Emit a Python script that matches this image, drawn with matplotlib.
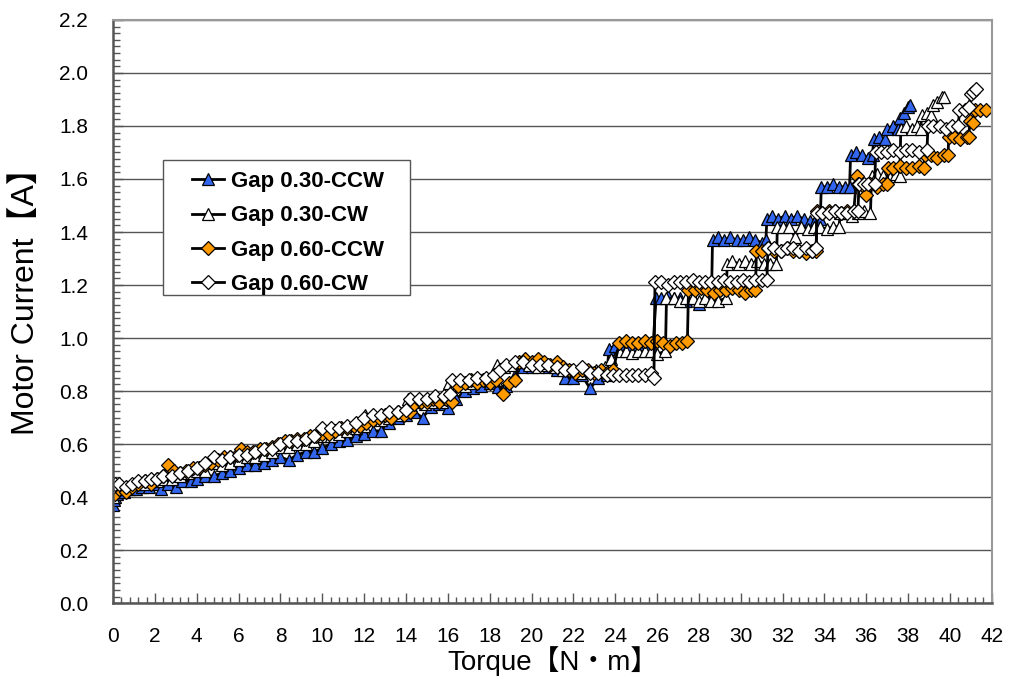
import matplotlib
matplotlib.use("Agg")
import matplotlib.pyplot as plt
from matplotlib.patches import Rectangle
from matplotlib.ticker import MultipleLocator, FormatStrFormatter

# Gap 0.30-CCW
ccw30_x = [0.0, 0.05, 0.1, 0.2, 0.3, 0.5, 0.8, 1.1, 1.4, 1.7, 2.0, 2.3, 2.6, 3.0, 3.3, 3.7, 4.0, 4.4, 4.8, 5.2,
           5.6, 6.0, 6.4, 6.8, 7.2, 7.6, 8.0, 8.4, 8.8, 9.2, 9.6, 10.0, 10.4, 10.8, 11.2, 11.6, 12.0, 12.4, 12.8,
           13.2, 13.6, 14.0, 14.4, 14.8, 15.2, 15.6, 16.0, 16.4, 16.8, 17.2, 17.6, 18.0, 18.4, 18.8, 19.2, 19.6,
           20.0, 20.4, 20.8, 21.2, 21.6, 22.0, 22.4, 22.8, 23.2, 23.6,
           23.7, 24.0, 24.3, 24.6, 24.9, 25.2, 25.5, 25.8, 25.95, 26.2, 26.5, 26.8, 27.1, 27.4, 27.7, 28.0, 28.3,
           28.6, 28.65, 28.9, 29.2, 29.5, 29.8, 30.1, 30.4, 30.7, 31.0, 31.2, 31.25, 31.5, 31.8, 32.1, 32.4, 32.7,
           33.0, 33.3, 33.6, 33.8, 33.85, 34.1, 34.4, 34.7, 35.0, 35.2, 35.25, 35.5, 35.8, 36.1, 36.3, 36.35, 36.6,
           36.9, 37.0, 37.3, 37.5, 37.6, 37.8, 38.0, 38.1]
ccw30_y = [0.37, 0.39, 0.40, 0.41, 0.42, 0.42, 0.43, 0.43, 0.44, 0.44, 0.45, 0.43, 0.45, 0.44, 0.46, 0.46, 0.47, 0.48,
           0.48, 0.49, 0.50, 0.51, 0.52, 0.52, 0.53, 0.54, 0.55, 0.54, 0.56, 0.57, 0.57, 0.585, 0.60, 0.61, 0.615,
           0.63, 0.64, 0.65, 0.65, 0.68, 0.70, 0.71, 0.72, 0.70, 0.74, 0.75, 0.735, 0.77, 0.80, 0.81, 0.82, 0.83,
           0.815, 0.82, 0.86, 0.89, 0.89, 0.90, 0.89, 0.88, 0.85, 0.85, 0.86, 0.81, 0.85, 0.86,
           0.96, 0.97, 0.96, 0.97, 0.955, 0.96, 0.955, 0.96, 1.15, 1.15, 1.16, 1.15, 1.15, 1.14, 1.15, 1.13, 1.15,
           1.15, 1.37, 1.38, 1.37, 1.38, 1.37, 1.37, 1.38, 1.37, 1.36, 1.37, 1.45, 1.46, 1.45, 1.46, 1.45, 1.46,
           1.45, 1.44, 1.45, 1.45, 1.57, 1.57, 1.58, 1.57, 1.57, 1.57, 1.69, 1.70, 1.69, 1.68, 1.69, 1.75, 1.76,
           1.75, 1.79, 1.80, 1.79, 1.83, 1.85, 1.87, 1.88]

# Gap 0.30-CW
cw30_x = [0.0, 0.1, 0.3, 0.6, 0.9, 1.2, 1.5, 1.8, 2.1, 2.4, 2.8, 3.2, 3.6, 4.0, 4.4, 4.8, 5.2, 5.6, 6.0, 6.4, 6.8,
          7.2, 7.6, 8.0, 8.4, 8.8, 9.2, 9.6, 10.0, 10.4, 10.8, 11.2, 11.6, 12.0, 12.05, 12.4, 12.8, 13.2, 13.6,
          14.0, 14.1, 14.5, 14.9, 15.3, 15.7, 16.0, 16.05, 16.4, 16.8, 17.2, 17.6, 18.0, 18.3, 18.35, 18.7, 19.1,
          19.5, 19.9, 20.3, 20.7, 21.1, 21.5, 21.9, 22.3, 22.7, 23.1, 23.5, 23.8, 24.2, 24.5, 24.8, 25.1, 25.4,
          25.7, 26.0, 26.4, 26.45, 26.8, 27.1, 27.4, 27.7, 28.0, 28.3, 28.6, 28.9, 29.3, 29.35, 29.6, 29.9, 30.2,
          30.5, 30.8, 31.1, 31.4, 31.7, 31.75, 32.0, 32.3, 32.6, 32.9, 33.2, 33.5, 33.8, 34.1, 34.4, 34.7, 34.75,
          35.0, 35.3, 35.6, 35.9, 36.2, 36.25, 36.5, 36.8, 37.1, 37.4, 37.6, 37.65, 37.9, 38.2, 38.4, 38.6, 38.65,
          38.9, 39.1, 39.2, 39.4, 39.6, 39.7]
cw30_y = [0.40, 0.43, 0.44, 0.44, 0.45, 0.45, 0.45, 0.46, 0.46, 0.47, 0.47, 0.48, 0.49, 0.50, 0.50, 0.53, 0.52,
          0.53, 0.54, 0.55, 0.55, 0.56, 0.57, 0.59, 0.59, 0.60, 0.60, 0.61, 0.63, 0.63, 0.64, 0.65, 0.66, 0.67,
          0.71, 0.70, 0.69, 0.70, 0.71, 0.72, 0.77, 0.76, 0.75, 0.76, 0.76, 0.77, 0.83, 0.83, 0.82, 0.83, 0.84,
          0.84, 0.84, 0.90, 0.89, 0.90, 0.91, 0.90, 0.89, 0.90, 0.89, 0.88, 0.88, 0.87, 0.88, 0.88, 0.89, 0.92,
          0.95, 0.95, 0.945, 0.95, 0.95, 0.95, 0.94, 0.95, 1.15, 1.15, 1.14, 1.15, 1.15, 1.14, 1.15, 1.14, 1.14,
          1.15, 1.28, 1.29, 1.28, 1.29, 1.28, 1.29, 1.28, 1.28, 1.28, 1.42, 1.42, 1.42, 1.38, 1.42, 1.41, 1.42,
          1.42, 1.41, 1.42, 1.42, 1.47, 1.47, 1.46, 1.47, 1.48, 1.47, 1.61, 1.62, 1.61, 1.61, 1.62, 1.61, 1.79,
          1.80, 1.79, 1.80, 1.79, 1.84, 1.85, 1.84, 1.88, 1.89, 1.91, 1.91]

# Gap 0.60-CCW
ccw60_x = [0.0, 0.1, 0.3, 0.6, 0.9, 1.2, 1.5, 1.8, 2.1, 2.4, 2.6, 2.9, 3.2, 3.5, 3.8, 4.1, 4.4, 4.7, 5.0, 5.3, 5.6,
           5.9, 6.1, 6.4, 6.7, 7.0, 7.3, 7.6, 7.9, 8.2, 8.5, 8.8, 9.1, 9.4, 9.7, 10.0, 10.3, 10.6, 10.9, 11.2,
           11.5, 11.8, 12.1, 12.4, 12.7, 13.0, 13.3, 13.6, 13.9, 14.2, 14.4, 14.7, 15.0, 15.3, 15.6, 15.9, 16.2,
           16.5, 16.8, 17.1, 17.4, 17.7, 18.0, 18.3, 18.65, 18.9, 19.2, 19.4, 19.7, 20.0, 20.3, 20.6, 20.9, 21.2,
           21.5, 21.8, 22.1, 22.4, 22.7, 23.0, 23.3, 23.6, 23.9, 24.2, 24.5, 24.8, 25.1, 25.4, 25.7, 26.0, 26.3,
           26.6, 26.9, 27.2, 27.45, 27.5, 27.8, 28.1, 28.4, 28.7, 29.0, 29.3, 29.6, 29.9, 30.2, 30.5, 30.7, 30.75,
           31.0, 31.3, 31.6, 31.9, 32.2, 32.5, 32.8, 33.1, 33.4, 33.6, 33.65, 33.9, 34.2, 34.5, 34.8, 35.1, 35.4,
           35.55, 35.6, 35.9, 36.0, 36.2, 36.5, 36.8, 37.0, 37.05, 37.3, 37.6, 37.9, 38.2, 38.5, 38.75, 38.8, 39.1,
           39.4, 39.7, 39.9, 39.95, 40.2, 40.5, 40.8, 40.9, 40.95, 41.1, 41.2, 41.45, 41.7]
ccw60_y = [0.42, 0.41, 0.43, 0.42, 0.44, 0.45, 0.46, 0.45, 0.47, 0.48, 0.52, 0.50, 0.49, 0.50, 0.51, 0.51, 0.52,
           0.53, 0.54, 0.55, 0.55, 0.56, 0.58, 0.57, 0.57, 0.58, 0.58, 0.59, 0.60, 0.61, 0.61, 0.62, 0.62, 0.63,
           0.63, 0.64, 0.64, 0.65, 0.66, 0.66, 0.67, 0.67, 0.68, 0.69, 0.70, 0.71, 0.70, 0.72, 0.71, 0.72, 0.75,
           0.76, 0.76, 0.77, 0.76, 0.77, 0.76, 0.82, 0.83, 0.84, 0.83, 0.84, 0.83, 0.84, 0.79, 0.83, 0.84, 0.91,
           0.92, 0.91, 0.92, 0.91, 0.90, 0.91, 0.89, 0.88, 0.87, 0.88, 0.88, 0.87, 0.88, 0.87, 0.88, 0.98, 0.99,
           0.98, 0.98, 0.99, 0.98, 0.99, 0.98, 0.97, 0.98, 0.98, 0.99, 1.18, 1.18, 1.19, 1.18, 1.17, 1.18, 1.18,
           1.19, 1.18, 1.17, 1.18, 1.18, 1.33, 1.33, 1.34, 1.33, 1.33, 1.34, 1.33, 1.33, 1.32, 1.33, 1.33, 1.48,
           1.47, 1.48, 1.48, 1.47, 1.48, 1.48, 1.61, 1.58, 1.57, 1.54, 1.58, 1.57, 1.58, 1.58, 1.64, 1.64, 1.65,
           1.64, 1.64, 1.65, 1.64, 1.69, 1.69, 1.68, 1.69, 1.69, 1.76, 1.76, 1.75, 1.76, 1.76, 1.82, 1.81, 1.86,
           1.86, 1.86]

# Gap 0.60-CW
cw60_x = [0.0, 0.1, 0.3, 0.6, 0.9, 1.2, 1.5, 1.8, 2.1, 2.4, 2.8, 3.2, 3.6, 4.0, 4.4, 4.8, 5.2, 5.6, 6.0, 6.4, 6.8,
          7.2, 7.6, 8.0, 8.4, 8.8, 9.2, 9.6, 10.0, 10.4, 10.8, 11.2, 11.6, 12.0, 12.4, 12.8, 13.2, 13.6, 14.0,
          14.2, 14.6, 15.0, 15.4, 15.8, 16.1, 16.2, 16.6, 17.0, 17.4, 17.8, 18.2, 18.5, 18.8, 19.2, 19.6, 20.0,
          20.4, 20.8, 21.2, 21.6, 22.0, 22.4, 22.8, 23.2, 23.6, 23.9, 24.2, 24.5, 24.8, 25.1, 25.4, 25.7, 25.85,
          25.9, 26.2, 26.5, 26.8, 27.1, 27.4, 27.7, 28.0, 28.3, 28.6, 28.9, 29.2, 29.5, 29.8, 30.1, 30.4, 30.7,
          31.0, 31.25, 31.3, 31.6, 31.9, 32.2, 32.5, 32.8, 33.1, 33.4, 33.6, 33.65, 33.9, 34.2, 34.5, 34.8, 35.1,
          35.4, 35.6, 35.65, 35.9, 36.1, 36.4, 36.45, 36.7, 37.0, 37.3, 37.6, 37.9, 38.2, 38.5, 38.9, 38.95, 39.2,
          39.5, 39.8, 40.1, 40.4, 40.45, 40.7, 40.9, 41.0, 41.1, 41.25]
cw60_y = [0.44, 0.45, 0.45, 0.44, 0.45, 0.46, 0.46, 0.47, 0.47, 0.48, 0.48, 0.49, 0.50, 0.51, 0.53, 0.55, 0.54,
          0.55, 0.56, 0.56, 0.57, 0.58, 0.58, 0.60, 0.61, 0.61, 0.62, 0.63, 0.66, 0.66, 0.66, 0.67, 0.68, 0.70,
          0.71, 0.71, 0.72, 0.72, 0.73, 0.77, 0.77, 0.77, 0.78, 0.78, 0.79, 0.84, 0.84, 0.84, 0.85, 0.85, 0.86,
          0.88, 0.90, 0.91, 0.91, 0.90, 0.90, 0.90, 0.89, 0.88, 0.88, 0.89, 0.87, 0.87, 0.86, 0.86, 0.86, 0.86,
          0.86, 0.86, 0.86, 0.87, 0.85, 1.21, 1.21, 1.20, 1.21, 1.21, 1.21, 1.22, 1.21, 1.21, 1.21, 1.21, 1.22,
          1.21, 1.21, 1.22, 1.21, 1.22, 1.22, 1.22, 1.34, 1.34, 1.33, 1.34, 1.34, 1.33, 1.34, 1.33, 1.34, 1.47,
          1.47, 1.47, 1.48, 1.47, 1.47, 1.48, 1.48, 1.58, 1.58, 1.58, 1.58, 1.70, 1.70, 1.70, 1.71, 1.70, 1.71,
          1.71, 1.70, 1.71, 1.80, 1.80, 1.80, 1.79, 1.80, 1.80, 1.86, 1.86, 1.87, 1.92, 1.93, 1.94]

labels = ["Gap 0.30-CCW", "Gap 0.30-CW", "Gap 0.60-CCW", "Gap 0.60-CW"]

fig = plt.figure(figsize=(10.1, 6.87), dpi=100)
ax = fig.add_axes([0.112, 0.122, 0.870, 0.849])

style = dict(color="black", lw=2.0, mec="black", mew=0.9)
ax.plot(ccw30_x, ccw30_y, marker="^", ms=8.5, mfc="#3366ee", label=labels[0], **style)
ax.plot(cw30_x, cw30_y, marker="^", ms=8.5, mfc="white", label=labels[1], **style)
ax.plot(ccw60_x, ccw60_y, marker="D", ms=7, mfc="#ff9900", label=labels[2], **style)
ax.plot(cw60_x, cw60_y, marker="D", ms=7, mfc="white", label=labels[3], **style)

ax.set_xlim(0, 42)
ax.set_ylim(0, 2.2)
ax.xaxis.set_major_locator(MultipleLocator(2))
ax.xaxis.set_minor_locator(MultipleLocator(0.4))
ax.yaxis.set_major_locator(MultipleLocator(0.2))
ax.yaxis.set_minor_locator(MultipleLocator(0.025))
ax.yaxis.set_major_formatter(FormatStrFormatter("%.1f"))

ax.grid(axis="y", which="major", color="#555555", lw=1.0)
ax.set_axisbelow(True)
for side in ["left", "bottom"]:
    ax.spines[side].set_color("#555555")
    ax.spines[side].set_linewidth(1.8)
for side in ["right", "top"]:
    ax.spines[side].set_color("#999999")
    ax.spines[side].set_linewidth(1.5)

ax.tick_params(which="major", direction="in", length=7, width=1, color="#555555")
ax.tick_params(which="minor", direction="in", length=4, width=1, color="#555555")
ax.tick_params(axis="x", which="major", pad=17)
ax.tick_params(axis="y", which="major", pad=18)
ax.tick_params(axis="y", which="minor", length=5)

for t in ax.get_xticklabels() + ax.get_yticklabels():
    t.set_family("Liberation Sans")
    t.set_fontsize(15)

label_font = ["Liberation Sans", "Noto Sans CJK JP"]
ax.set_xlabel("Torque【N・m】", family=label_font, fontsize=20, labelpad=0)
ax.set_ylabel("Motor Current【A】", family=label_font, fontsize=23)
ax.yaxis.set_label_coords(-0.082, 0.53)

# legend box (wider than the entries, as in the original)
ax.add_patch(Rectangle((0.057, 0.528), 0.281, 0.232, transform=ax.transAxes, facecolor="white",
                       edgecolor="#555555", lw=1.0, zorder=4.5))
leg = ax.legend(loc="upper left", bbox_to_anchor=(0.090, 0.741), borderaxespad=0, borderpad=0,
                frameon=False, handlelength=1.45, handletextpad=0.3, labelspacing=0.6,
                prop={"family": "Liberation Sans", "weight": "bold", "size": 16})

fig.savefig("out.png", dpi=100)
